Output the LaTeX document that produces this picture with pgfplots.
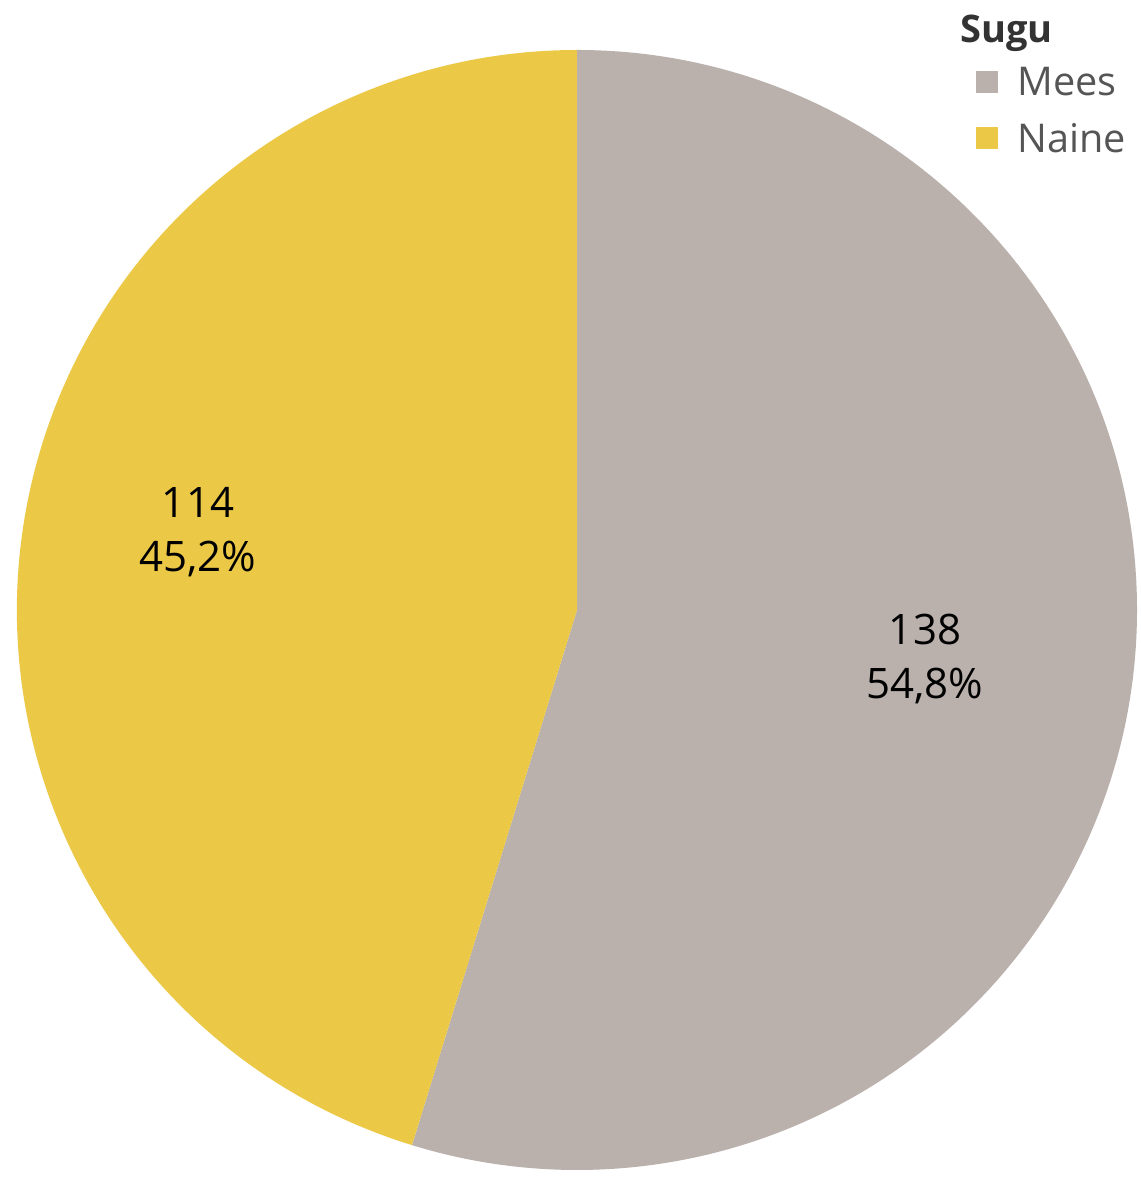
\documentclass[border=0pt]{standalone}
\usepackage{pgfplots}
\pgfplotsset{compat=1.18}
\usepackage{fontspec}
\setmainfont{Open Sans}
\definecolor{mees}{HTML}{BAB0AC}
\definecolor{naine}{HTML}{EBC947}
\definecolor{txt}{HTML}{333333}
\definecolor{legtxt}{HTML}{555555}
\begin{document}
\begin{tikzpicture}
\def\vMees{138}
\def\vNaine{114}
\pgfmathsetmacro{\total}{\vMees+\vNaine}
\pgfmathsetmacro{\endang}{90-\vMees/\total*360}
\pgfmathsetmacro{\endangB}{\endang-\vNaine/\total*360}
\begin{axis}[at={(0,0)},anchor=south west,width=570pt,height=591pt,scale only axis,
  xmin=0,xmax=1140,ymin=0,ymax=1182,hide axis,clip=false]
\fill[mees] (axis cs:577,572) -- ++(90:280pt) arc[start angle=90,end angle=\endang,radius=280pt] -- cycle;
\fill[naine] (axis cs:577,572) -- ++(\endang:280pt) arc[start angle=\endang,end angle=\endangB,radius=280pt] -- cycle;
\node[align=center,text=black,font=\fontsize{21}{27}\selectfont] at (axis cs:925,523) {138\\54,8\%};
\node[align=center,text=black,font=\fontsize{21}{27}\selectfont] at (axis cs:198,650) {114\\45,2\%};
\node[anchor=west,text=txt,font=\fontsize{19}{22}\selectfont\bfseries,inner sep=0pt] at (axis cs:960,1149) {Sugu};
\fill[mees] (axis cs:976,1089) rectangle (axis cs:998,1111);
\fill[naine] (axis cs:976,1033) rectangle (axis cs:998,1055);
\node[anchor=west,text=legtxt,font=\fontsize{19.8}{22}\selectfont,inner sep=0pt] at (axis cs:1017,1100) {Mees};
\node[anchor=west,text=legtxt,font=\fontsize{19.8}{22}\selectfont,inner sep=0pt] at (axis cs:1017,1044) {Naine};
\end{axis}
\pgfresetboundingbox
\path (0,0) rectangle (570pt,591pt);
\end{tikzpicture}
\end{document}
